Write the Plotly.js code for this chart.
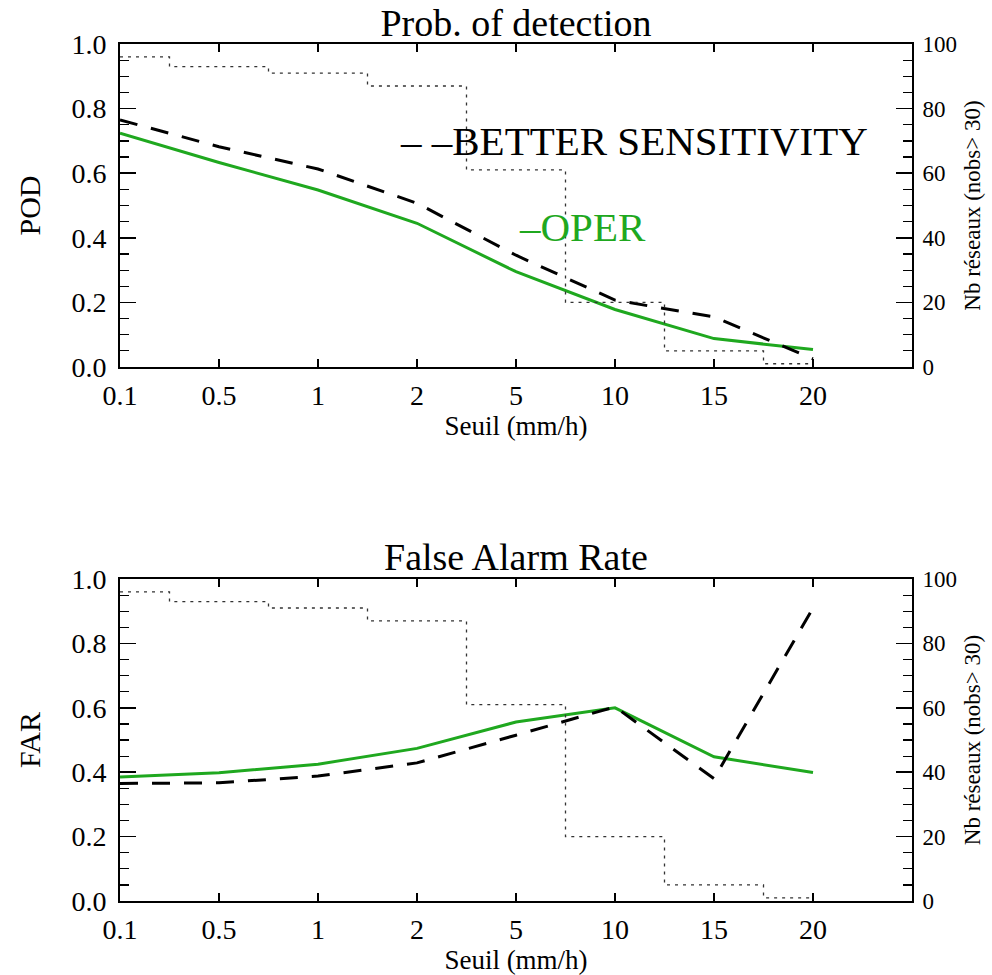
<!DOCTYPE html>
<html>
<head>
<meta charset="utf-8">
<script src="https://cdn.plot.ly/plotly-3.0.1.min.js"></script>
<style>html,body{margin:0;padding:0;background:#fff;}#chart{width:992px;height:975px;}</style>
</head>
<body>
<div id="chart"></div>
<script>
// Thresholds (mm/h)
const thresholds = ["0.1", "0.5", "1", "2", "5", "10", "15", "20"];
// Probability of detection
const podOper   = [0.724, 0.633, 0.548, 0.445, 0.295, 0.178, 0.088, 0.054];
const podBetter = [0.765, 0.682, 0.613, 0.507, 0.346, 0.207, 0.155, 0.025];
// False alarm rate
const farOper   = [0.385, 0.398, 0.425, 0.474, 0.556, 0.600, 0.448, 0.399];
const farBetter = [0.365, 0.367, 0.388, 0.429, 0.515, 0.603, 0.380, 0.910];
// Number of networks (nobs > 30)
const nbReseaux = [96, 93, 91, 87, 61, 20, 5, 1];

const FONT = "Liberation Serif";
const GREEN = "#1fa81f";

function stepTrace(xa, ya) {
  return {x: thresholds, y: nbReseaux, xaxis: xa, yaxis: ya, type: "scatter", mode: "lines",
    line: {shape: "hvh", color: "#333", width: 1.3, dash: "3px,5px"}, showlegend: false, hoverinfo: "skip"};
}
function lineTrace(vals, xa, ya, color, dash) {
  return {x: thresholds, y: vals, xaxis: xa, yaxis: ya, type: "scatter", mode: "lines",
    line: {color: color, width: 3, dash: dash}, showlegend: false};
}

const data = [
  stepTrace("x", "y2"),
  lineTrace(podOper, "x", "y", GREEN, "solid"),
  lineTrace(podBetter, "x", "y", "#000", "18px,14px"),
  stepTrace("x2", "y4"),
  lineTrace(farOper, "x2", "y3", GREEN, "solid"),
  lineTrace(farBetter, "x2", "y3", "#000", "18px,14px")
];

function xAxis(anchor) {
  return {anchor: anchor, domain: [0, 1], type: "category", categoryarray: thresholds,
    range: [0, 8], showgrid: false, zeroline: false, showline: true, linecolor: "#000", linewidth: 2,
    mirror: "ticks", ticks: "inside", ticklen: 8, tickcolor: "#000", tickwidth: 1.5,
    tickfont: {family: FONT, size: 28, color: "#000"}, ticklabelstandoff: 2,
    title: {text: "Seuil (mm/h)", font: {family: FONT, size: 27, color: "#000"}, standoff: 2}};
}
function yLeft(domain, title, anchor) {
  return {domain: domain, anchor: anchor, range: [0, 1], dtick: 0.2, tick0: 0, tickformat: ".1f",
    showgrid: false, zeroline: false, showline: true, linecolor: "#000", linewidth: 2,
    ticks: "inside", ticklen: 16, tickcolor: "#000", tickwidth: 1.5,
    minor: {dtick: 0.05, tick0: 0, ticks: "inside", ticklen: 9, tickcolor: "#000", tickwidth: 1.2, showgrid: false},
    tickfont: {family: FONT, size: 28, color: "#000"}, ticklabelstandoff: 6,
    title: {text: title, font: {family: FONT, size: 30, color: "#000"}, standoff: 22}};
}
function yRight(overlay, anchor) {
  return {overlaying: overlay, anchor: anchor, side: "right", range: [0, 100], dtick: 20, tick0: 0,
    showgrid: false, zeroline: false, showline: true, linecolor: "#000", linewidth: 2,
    ticks: "inside", ticklen: 16, tickcolor: "#000", tickwidth: 1.5,
    minor: {dtick: 5, tick0: 0, ticks: "inside", ticklen: 9, tickcolor: "#000", tickwidth: 1.2, showgrid: false},
    tickfont: {family: FONT, size: 23, color: "#000"}, ticklabelstandoff: 4,
    title: {text: "Nb réseaux (nobs> 30)", font: {family: FONT, size: 23, color: "#000"}, standoff: 8}};
}

const layout = {
  width: 992, height: 975,
  margin: {l: 120, r: 80, t: 44, b: 74},
  paper_bgcolor: "#fff", plot_bgcolor: "#fff",
  font: {family: FONT, color: "#000"},
  showlegend: false,
  title: {text: "Prob. of detection", font: {family: FONT, size: 38, color: "#000"},
    x: 0.5, xref: "paper", xanchor: "center", y: 0.977, yref: "container", yanchor: "middle"},
  xaxis: xAxis("y"),
  yaxis: yLeft([0.6231, 1], "POD", "x"),
  yaxis2: yRight("y", "x"),
  xaxis2: xAxis("y3"),
  yaxis3: yLeft([0, 0.3757], "FAR", "x2"),
  yaxis4: yRight("y3", "x2"),
  annotations: [
    {text: "False Alarm Rate", xref: "paper", yref: "paper", x: 0.5, y: 0.4014, xanchor: "center", yanchor: "middle",
      showarrow: false, font: {family: FONT, size: 38, color: "#000"}},
    {text: "– –BETTER SENSITIVITY", xref: "paper", yref: "paper", x: 0.351, y: 0.8868, xanchor: "left", yanchor: "middle",
      showarrow: false, font: {family: FONT, size: 41, color: "#000"}},
    {text: "–OPER", xref: "paper", yref: "paper", x: 0.501, y: 0.7865, xanchor: "left", yanchor: "middle",
      showarrow: false, font: {family: FONT, size: 41, color: GREEN}}
  ]
};

Plotly.newPlot("chart", data, layout, {staticPlot: true, displayModeBar: false});
</script>
</body>
</html>
